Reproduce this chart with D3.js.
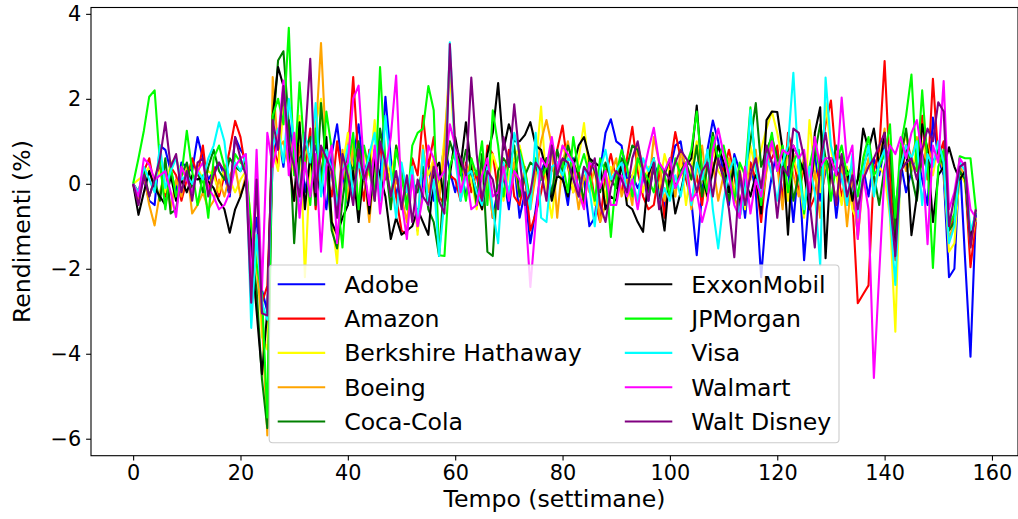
<!DOCTYPE html>
<html>
<head>
<meta charset="utf-8">
<title>Rendimenti settimanali</title>
<script src="https://cdn.jsdelivr.net/npm/d3@7"></script>
<style>
  body { margin: 0; background: #fff; }
  svg { font-family: "DejaVu Sans", sans-serif; }
</style>
</head>
<body>
<svg id="chart" width="1018" height="519"></svg>
<script>
// weekly returns (%), weeks 0..157
const companies = ["Adobe", "Amazon", "Berkshire Hathaway", "Boeing", "Coca-Cola",
                   "ExxonMobil", "JPMorgan", "Visa", "Walmart", "Walt Disney"];
const colors = ["#0000ff", "#ff0000", "#ffff00", "#ffa500", "#008000",
                "#000000", "#00ff00", "#00ffff", "#ff00ff", "#800080"];
const xTicks = [0, 20, 40, 60, 80, 100, 120, 140, 160];
const yTicks = [-6, -4, -2, 0, 2, 4];

const adobe = [
  0, -0.3, 0.1, -0.4, -0.5, 0.9, 0.8, 0.3, -0.2, 0.5,
  0.4, 0.3, 1.1, 0.6, 0.1, 0.3, 0.5, 0.2, -0.3, 1.1,
  0.8, 0.6, -1.6, -0.8, -2.5, -3.0, 0.5, 1.2, 0.4, 1.5,
  0.6, 1.3, -0.2, 0.5, 0.9, 0.2, -0.6, 0.7, 1.4, 0.3,
  -0.5, 0.6, 1.4, 0.2, -0.7, 0.8, 0.1, 2.05, 0.6, -0.3,
  0.4, -0.6, 0.3, -1.1, 0.2, 0.5, -0.4, 0.1, 0.9, 0.3,
  -0.2, 0.4, -0.3, 0.3, 0.2, -0.5, 0.4, -0.8, -0.1, 0.2,
  -0.6, 0.5, -0.8, -0.2, -1.4, -0.6, 0.3, 0.6, -0.3, 0.5,
  0.2, -0.5, 0.6, -0.2, 0.1, -1.0, -0.8, 0.3, 1.2, 1.52,
  1.0, 0.9, 0.1, 0.2, -0.1, 0.2, -0.4, 0.5, 0.1, -0.6,
  0.3, 0.9, 1.0, 0.2, -0.4, -1.68, -0.2, 0.8, 1.49, 1.0,
  0.2, -0.5, 0.7, 0.3, -0.8, 0.5, -0.2, -2.2, -0.6, 0.2,
  0.8, -0.3, 0.4, -0.9, 0.5, -1.8, -0.2, 0.7, -0.4, 0.3,
  0.5, -0.8, 0.3, -0.5, 0.1, -1.2, 0.4, -0.3, 0.6, 0.2,
  0.9, -0.4, -0.6, 0.5, -0.2, 0.3, 0.7, 0.1, -0.5, 1.56,
  0.6, 0.2, -2.2, -2.0, 0.59, -1.8, -4.07, -0.7
];
const amazon = [
  0, -0.2, 0.3, 0.6, -0.1, 0.5, -0.3, 0.4, 0.2, -0.4,
  0.1, 0.6, 0.2, 0.9, -0.2, 0.4, -0.3, 0.2, 0.8, 1.48,
  1.1, 0.3, -1.2, -1.8, -2.8, -2.4, 1.0, 0.4, 2.1, 0.6,
  -0.4, 0.9, 0.3, 1.3, -0.6, 0.8, 0.2, -0.3, 1.0, 0.1,
  0.7, 2.51, 0.5, -0.4, 0.8, 0.3, 0.9, 0.1, 0.4, -0.3,
  -1.1, -1.2, 0.6, 0.2, 1.6, 0.4, 1.1, -0.3, -0.5, 0.2,
  0.1, -0.4, 0.5, -0.2, 0.3, -0.6, 0.9, 0.7, -0.2, 0.1,
  0.8, -0.3, -0.5, 0.2, -1.1, -0.7, -0.2, 0.5, 0.3, 0.8,
  1.37, 0.4, -0.2, 0.3, -0.5, 0.5, -0.4, -0.9, 0.2, 0.7,
  0.1, -0.2, 0.6, 1.34, 0.3, -0.3, -0.6, -0.5, 0.3, -0.8,
  0.4, 1.22, 0.6, 0.1, -0.4, 0.2, -0.5, 0.6, 0.9, 0.5,
  0.3, 0.8, 0.2, -0.6, -0.3, 0.5, 0.1, -0.9, 0.4, 0.6,
  0.9, -0.5, 1.2, 0.7, -0.2, 0.4, -0.6, -0.3, 0.6, 1.4,
  1.96, 0.5, -0.3, 0.2, -0.4, -2.81, -2.6, -2.39, 0.3, 0.8,
  2.89, 0.2, -1.8, 0.7, 1.2, 0.5, 0.3, 1.6, 0.1, 2.47,
  0.6, 1.0, -1.1, -0.8, 0.2, 0.1, -1.96, -0.9
];
const berkshire = [
  0, 0.1, 0.2, 0.4, 0.1, 0.3, -0.2, 0.5, 0.6, 0.2,
  0.3, -0.1, 0.4, 0.1, 0.3, 0.2, -0.2, 0.4, 0.1, -0.2,
  0.1, 0.3, -0.9, -1.4, -3.6, -3.9, 0.8, 0.3, 1.8, 0.9,
  0.2, 1.6, -2.2, 0.5, 1.4, 2.0, 0.6, -0.8, -1.87, 0.4,
  1.2, 0.3, -0.5, 0.8, 0.2, 1.5, -0.3, 0.6, 0.1, 0.9,
  0.4, -0.5, 0.3, -1.2, 0.8, 0.2, 0.6, -0.2, 1.1, 2.6,
  0.8, -0.3, 0.4, 0.1, -0.6, 0.5, -0.2, 0.7, 0.3, -0.4,
  0.2, 0.6, 0.9, 0.3, -0.5, 0.4, 1.82, -0.1, -0.8, 0.3,
  0.9, 0.5, -0.2, 0.6, 1.43, 0.2, -0.5, 0.3, -0.3, 0.4,
  0.1, 0.5, -0.4, 0.2, 0.6, -0.2, 0.4, 0.3, -0.1, 0.7,
  0.2, -0.3, 0.6, -0.5, 0.4, 1.0, 0.2, -0.4, 0.8, 0.3,
  0.1, 0.6, -0.2, 0.4, -0.6, 0.9, 0.3, 0.8, 1.3, 1.7,
  1.2, 0.5, -0.4, 0.6, 0.2, -0.8, 1.5, 0.3, -0.2, 1.9,
  0.8, 0.2, -0.5, 0.4, -0.6, -0.9, 0.5, 0.9, -0.3, 0.4,
  0.2, -0.8, -3.48, 0.6, 1.2, 0.3, 0.8, 1.0, 0.5, 0.2,
  0.9, 0.4, -1.6, -1.4, 0.3, 0.0, -1.2, -0.8
];
const boeing = [
  0, -0.4, 0.2, -0.5, -0.98, -0.2, 0.3, -0.6, 0.1, -0.3,
  0.4, -0.7, -0.5, -0.2, -0.6, -0.4, 0.1, -0.3, 0.2, 0.4,
  -0.3, 0.2, -1.1, -2.0, -3.2, -5.92, 2.51, 0.8, 1.0, 0.4,
  1.2, -0.3, 0.9, 0.5, 1.1, 3.31, 0.7, 0.2, -0.6, 0.8,
  -0.4, 1.0, -0.7, 0.3, -0.9, 0.5, -0.2, 0.6, -0.5, 0.1,
  -0.3, -0.9, 0.4, -1.0, 0.9, -0.2, 0.5, -0.4, 0.8, 3.0,
  0.9, 0.5, 0.1, 0.6, -0.3, -0.6, 0.2, -0.8, -0.4, 0.3,
  -0.2, 0.5, -0.3, 0.4, -0.6, 0.2, 1.0, 1.5, 0.9, -0.8,
  0.5, 1.0, 0.3, -0.6, 0.2, -0.2, 0.4, -0.9, -0.5, 0.2,
  0.6, -0.3, 0.1, -0.5, 0.9, 0.4, -0.2, 1.1, 0.5, -0.4,
  0.2, -0.3, 0.8, 0.4, -0.6, 0.3, 0.9, -0.2, 0.5, -0.4,
  0.2, 0.6, -0.3, -0.7, 0.4, 0.1, 0.8, -0.5, 0.3, 0.9,
  0.4, -0.6, 1.0, 0.2, -0.3, 0.7, -0.5, 0.3, -0.8, 0.6,
  0.2, -0.4, 0.5, -1.0, 0.3, -1.3, 0.1, 0.6, -0.2, 0.5,
  1.3, -0.5, -1.4, 0.9, 0.3, 0.6, 1.1, 0.4, 0.9, 0.5,
  0.7, 0.3, -1.3, -0.9, 0.4, 0.2, -1.5, -0.8
];
const cocaCola = [
  0, -0.2, 0.3, -0.3, 0.1, -0.4, 0.6, -0.7, -0.6, 0.2,
  0.5, -0.1, 0.3, -0.2, 0.4, 0.8, 0.3, 0.1, 0.6, 0.4,
  0.3, 0.5, -1.5, -2.5, -4.6, -5.75, 1.2, 2.9, 3.12, 1.4,
  -1.4, 0.6, 0.8, 1.1, -0.5, 1.9, 0.4, -1.1, -1.52, -0.4,
  0.6, 0.3, 1.0, 0.2, 0.7, -0.3, 1.3, 0.5, -0.6, 0.9,
  0.3, -0.5, 0.1, -0.2, 0.4, -0.6, -0.9, -1.7, 0.2, 1.0,
  0.6, 0.2, 0.8, 0.4, -0.5, 0.7, -1.6, -1.7, 0.3, 0.6,
  0.4, 0.9, -0.3, 0.2, 0.5, 0.4, 0.1, 0.6, -0.3, 0.8,
  0.3, 0.9, 0.5, 0.2, -0.4, 0.6, 0.3, -0.2, 0.5, 0.1,
  -0.1, 0.6, 0.4, 0.9, 0.8, 0.3, -0.2, 0.4, -0.5, 0.2,
  0.6, -0.1, 0.3, 0.5, 0.1, 0.9, -0.3, 0.4, 1.2, 0.5,
  0.2, -0.4, 0.6, -0.8, 0.3, 1.0, 1.9, 0.4, 0.8, 1.1,
  0.6, 0.3, 0.9, -0.4, 0.2, 0.5, -0.2, 0.7, 1.4, 0.6,
  0.3, 0.9, 0.5, 0.2, -0.3, 0.1, 0.4, 0.8, 0.2, -0.5,
  0.4, 0.9, -1.2, 0.6, 1.3, 0.2, -0.4, 0.7, 0.3, 0.5,
  0.8, 0.4, -1.1, -0.9, 0.3, 0.1, -1.4, -0.6
];
const exxon = [
  0, -0.73, -0.2, 0.3, -0.1, -0.3, -0.5, 0.2, -0.4, 0.1,
  -0.2, 0.2, 0.1, 0.15, 0.05, -0.1, -0.4, -0.6, -1.15, -0.6,
  -0.3, 0.1, -1.5, -3.0, -4.48, -3.0, 1.6, 2.75, 2.3, 0.5,
  -0.4, 1.45, -0.6, 0.7, -0.3, 0.2, 1.1, -0.9, -1.2, -0.8,
  -0.5, 0.3, -0.9, 0.4, -0.7, 0.6, 0.2, -0.3, -1.3, -0.8,
  -1.2, -1.1, -1.0, -0.6, -0.9, -1.2, 0.3, 0.5, -0.5, 0.2,
  1.1, 0.4, 1.45, 0.3, -0.2, -0.6, 0.7, 1.2, 2.37, 0.8,
  1.4, 1.0, 1.0, 1.15, 1.45, 0.9, 0.8, 0.3, -0.4, 0.2,
  0.1, -0.3, 0.4, 0.9, 1.1, 0.6, 0.5, 0.4, -0.6, -0.3,
  -0.4, 0.5, -0.5, -0.6, -0.9, -1.13, 0.2, 0.6, -0.3, -1.1,
  0.3, -0.7, -0.2, 0.4, 0.6, 1.84, 0.2, -0.3, 0.3, 0.9,
  0.5, -0.2, 0.4, -0.5, 0.1, -0.3, 0.2, -0.7, 1.5, 1.7,
  1.69, 0.8, -1.2, 0.9, 0.6, 0.3, -0.6, 1.2, 1.8, -1.75,
  0.6, 0.2, 0.5, 0.3, -0.4, 0.1, 1.3, 0.8, 1.3, 0.4,
  1.2, -0.5, -1.5, 0.2, 0.9, -1.21, -0.3, 1.4, 0.8, -0.9,
  0.2, 0.4, 0.86, 0.4, 0.1, 0.3, -1.3, -0.7
];
const jpMorgan = [
  0, 0.6, 1.25, 2.05, 2.2, 0.5, -0.6, 0.4, -0.3, 0.2,
  1.25, 0.3, -0.5, 0.2, -0.8, 0.6, 0.9, 0.4, -0.2, 0.7,
  0.5, 0.4, -1.0, -1.9, -2.6, -5.5, 1.6, 2.0, 1.4, 3.67,
  0.2, 2.39, 0.6, -0.5, 1.3, -0.2, 1.7, 0.8, -0.3, -1.5,
  0.4, 1.2, -0.6, 0.9, 0.3, -0.4, 2.75, 0.5, -0.3, 0.8,
  0.2, -0.6, 0.9, 1.2, 1.3, 2.3, 1.73, -1.68, -1.7, 0.4,
  0.8, 0.3, -0.4, 0.6, 0.2, 1.0, -0.5, 1.73, 0.9, -0.3,
  0.5, 0.2, 0.8, 0.3, -0.4, 0.6, 0.1, 0.4, 0.9, 0.2,
  0.5, -0.2, 1.1, 0.3, 0.7, 0.2, -0.4, 0.6, 0.3, -1.25,
  0.2, 0.8, 0.4, -0.3, 0.6, 0.3, 0.1, -0.2, 0.5, 0.2,
  -0.3, 0.6, 0.2, 0.4, 0.8, 1.7, 0.3, -0.2, 1.1, 0.6,
  0.9, 0.3, -0.4, 0.5, 0.2, 1.8, 0.4, -0.5, 0.6, 1.2,
  0.3, 0.9, -0.2, 0.5, 0.8, -0.7, 0.4, 1.0, 0.2, 0.6,
  -0.4, 0.5, 0.9, 0.2, 0.4, -0.3, 0.6, 1.1, 0.2, 0.4,
  0.7, 1.4, -0.8, 0.9, 1.6, 2.57, 0.3, 2.2, 0.5, -1.98,
  0.4, 0.8, -1.0, -0.7, 0.65, 0.6, 0.6, -0.6
];
const visa = [
  0, -0.2, 0.4, 0.1, -0.2, 0.9, -0.1, 0.3, 0.6, 0.1,
  0.2, 0.0, 0.3, 0.1, 0.6, 0.9, 1.45, 1.0, -0.1, 0.5,
  0.3, 0.7, -3.39, -1.2, -2.8, -3.2, 0.9, 1.3, 0.5, 2.0,
  1.0, -0.4, 1.2, 0.5, 1.9, -0.3, 0.8, 0.3, -0.5, 0.2,
  0.9, -0.3, 0.5, 0.1, 0.7, 1.2, -0.4, 1.6, 0.3, -0.8,
  0.5, -0.2, 0.4, -0.9, 0.8, -0.5, 0.1, -1.7, -0.4, 3.33,
  0.6, -0.4, 0.2, 0.3, -0.2, -0.5, 0.4, -0.6, -1.4, 0.5,
  -0.3, 1.2, 0.7, 0.2, -0.6, 1.2, -0.8, -0.9, 0.4, 0.5,
  0.2, 0.6, 0.5, -0.3, 0.4, -0.1, -1.0, 0.3, 0.8, 0.1,
  0.3, 0.5, -0.2, 0.1, -0.4, 0.6, 0.3, 0.6, -0.5, -0.1,
  -0.4, 0.2, -0.3, 0.4, -0.5, 0.5, 0.1, 0.8, -0.6, -1.52,
  -0.4, 0.3, 0.6, -0.8, -0.2, 1.73, 0.4, -0.3, 0.7, 0.2,
  -0.4, 0.5, 0.9, 2.61, 0.3, -0.6, 0.4, -0.2, -1.92, 2.5,
  0.9, 0.4, 0.2, -0.5, 0.7, -0.8, 0.3, 0.9, -0.3, 0.5,
  0.8, -0.7, -2.38, 0.4, 0.9, 0.6, 1.0, -0.5, 0.7, 0.4,
  1.0, 0.5, -1.4, -1.0, 0.5, 0.3, -1.1, -0.7
];
const walmart = [
  0, -0.3, 0.6, 0.45, 0.1, 0.2, 0.3, -0.2, -0.78, 0.4,
  0.1, -0.2, 0.3, 0.5, -0.1, -0.3, -0.6, -0.5, -0.2, 0.4,
  0.6, 0.7, -2.4, 0.8, -2.5, 1.2, 0.4, 1.0, 2.43, 0.2,
  1.2, -0.8, 0.5, -0.3, 0.7, -1.6, 0.4, 0.9, -1.4, 0.3,
  0.5, 2.0, 2.31, 0.4, -0.5, 0.9, -0.7, 0.3, 1.1, 2.55,
  -0.4, -1.3, 0.2, -1.0, -0.3, 0.9, 0.6, 0.1, 0.3, 1.4,
  0.9, -0.2, 0.3, -0.6, -0.5, 0.2, 0.6, -0.3, -0.2, 0.4,
  -0.4, 0.3, 0.1, -0.5, -2.43, -0.9, 0.6, 0.4, 1.1, 0.3,
  0.9, 0.7, 0.5, -0.2, -0.6, 0.5, 0.4, -0.1, 0.3, -0.5,
  -0.5, 0.2, -0.3, 0.1, -0.6, 0.2, 0.8, 1.32, 0.5, 0.3,
  0.6, -0.1, 0.2, 0.5, -0.4, -0.2, -0.9, -0.4, 0.8, 1.3,
  0.7, 0.2, -0.5, -0.8, 0.4, -0.7, 0.1, -0.3, 0.5, 1.0,
  0.3, 0.8, 0.7, 0.9, 0.6, 0.8, -0.2, 1.1, 0.4, 0.6,
  0.6, 0.2, 2.03, 0.5, 0.9, -1.3, 0.2, -0.6, -4.57, -2.1,
  0.3, 0.9, 0.7, 1.1, 0.6, 1.2, 1.5, 0.7, -1.42, 0.9,
  0.5, 2.42, -0.6, -0.2, 0.6, 0.4, -0.6, -0.8
];
const waltDisney = [
  0, -0.5, 0.2, -0.3, 0.1, 0.6, 1.45, 0.4, 0.7, -0.2,
  0.3, -0.4, 0.5, 0.6, -0.3, 0.2, 0.5, 0.3, -0.2, 1.1,
  0.6, 0.2, -2.8, 0.1, -3.05, -3.1, 1.5, 0.8, 2.3, 0.9,
  0.4, -0.3, 1.0, 2.94, -0.2, 0.9, 0.6, 0.3, -0.8, 0.7,
  0.2, -0.5, 0.8, 0.1, 0.5, -0.4, 1.0, 0.5, -0.3, 0.3,
  -0.6, 0.2, -0.9, 0.1, -0.3, -0.5, 0.4, -0.4, -0.7, 3.29,
  0.9, 0.6, 0.2, 2.5, 0.7, -0.4, 0.3, 0.1, -0.6, 1.1,
  0.4, 1.87, 0.6, -0.5, -0.2, 0.5, 0.3, -0.4, 0.9, 0.2,
  0.6, 0.5, 0.1, -0.3, 0.4, 0.2, 0.6, -0.5, -0.9, -0.1,
  0.3, 0.1, -0.2, 0.6, 1.0, 0.3, -0.4, 0.5, -0.6, 0.3,
  0.1, 0.5, 0.8, 0.6, 0.4, -0.2, 0.3, 0.5, -0.3, 0.6,
  0.1, -0.6, -1.73, 0.3, -0.5, 0.2, 0.6, -0.1, 0.9, 0.5,
  -0.8, 0.4, 0.2, 1.3, 1.2, 0.6, -0.4, -1.5, 0.5, 1.2,
  0.3, -0.5, 0.7, -0.3, 0.2, -0.6, 0.1, 0.4, 0.6, 0.9,
  1.2, -0.4, -1.7, 0.3, 0.5, 0.6, 0.1, 0.8, 1.3, 1.0,
  1.92, 1.7, -1.0, -0.3, 0.4, 0.5, -1.5, -0.6
];

const seriesValues = [adobe, amazon, berkshire, boeing, cocaCola,
                      exxon, jpMorgan, visa, walmart, waltDisney];

const margin = {left: 91, top: 7.5, right: 0, bottom: 63.3};
const W = 1018, H = 519;
const plotW = W - margin.left - margin.right;
const plotH = H - margin.top - margin.bottom;

const n = adobe.length;
const xPad = (n - 1) * 0.05;
const allVals = seriesValues.flat();
const yMin = d3.min(allVals), yMax = d3.max(allVals);
const yPad = (yMax - yMin) * 0.05;

const x = d3.scaleLinear().domain([-xPad, n - 1 + xPad]).range([0, plotW]);
const y = d3.scaleLinear().domain([yMin - yPad, yMax + yPad]).range([plotH, 0]);

const svg = d3.select("#chart");
const g = svg.append("g").attr("transform", `translate(${margin.left},${margin.top})`);

g.append("defs").append("clipPath").attr("id", "clip")
  .append("rect").attr("width", plotW).attr("height", plotH);

const line = d3.line().x((d, i) => x(i)).y(d => y(d));

g.append("g").attr("clip-path", "url(#clip)")
  .selectAll("path")
  .data(seriesValues)
  .join("path")
  .attr("d", line)
  .attr("fill", "none")
  .attr("stroke", (d, i) => colors[i])
  .attr("stroke-width", 2.1)
  .attr("stroke-linejoin", "round");

// axes
const tickFont = 20.8, labelFont = 23.6;
const xAxis = g.append("g").attr("transform", `translate(0,${plotH})`)
  .call(d3.axisBottom(x).tickValues(xTicks).tickSize(4.9).tickPadding(4.9));
const yAxis = g.append("g")
  .call(d3.axisLeft(y).tickValues(yTicks).tickSize(4.9).tickPadding(4.9));

[xAxis, yAxis].forEach(a => {
  a.select(".domain").remove();
  a.selectAll(".tick line").attr("stroke", "#000").attr("stroke-width", 1.1);
  a.selectAll(".tick text").attr("font-size", tickFont).attr("fill", "#000")
    .attr("font-family", "DejaVu Sans");
});

// frame
g.append("rect").attr("width", plotW).attr("height", plotH)
  .attr("fill", "none").attr("stroke", "#000").attr("stroke-width", 1.1);

// axis labels
svg.append("text").attr("x", margin.left + plotW / 2).attr("y", 507)
  .attr("text-anchor", "middle").attr("font-size", labelFont)
  .text("Tempo (settimane)");
svg.append("text")
  .attr("transform", `translate(30,${margin.top + plotH / 2}) rotate(-90)`)
  .attr("text-anchor", "middle").attr("font-size", labelFont)
  .text("Rendimenti (%)");

// legend
const leg = svg.append("g");
leg.append("rect").attr("x", 269.2).attr("y", 265).attr("width", 569.8).attr("height", 177.7)
  .attr("rx", 3.5).attr("fill", "rgba(255,255,255,0.8)")
  .attr("stroke", "#cccccc").attr("stroke-width", 1.1);

const rowH = 34.3;
companies.forEach((name, i) => {
  const col = i < 5 ? 0 : 1;
  const row = i % 5;
  const lx = col === 0 ? 277.7 : 624.8;
  const ly = 284.3 + row * rowH;
  leg.append("line").attr("x1", lx).attr("x2", lx + 47.5)
    .attr("y1", ly).attr("y2", ly)
    .attr("stroke", colors[i]).attr("stroke-width", 2.1);
  leg.append("text").attr("x", lx + 66.5).attr("y", ly).attr("dy", "0.36em")
    .attr("font-size", labelFont).text(name);
});
</script>
</body>
</html>
